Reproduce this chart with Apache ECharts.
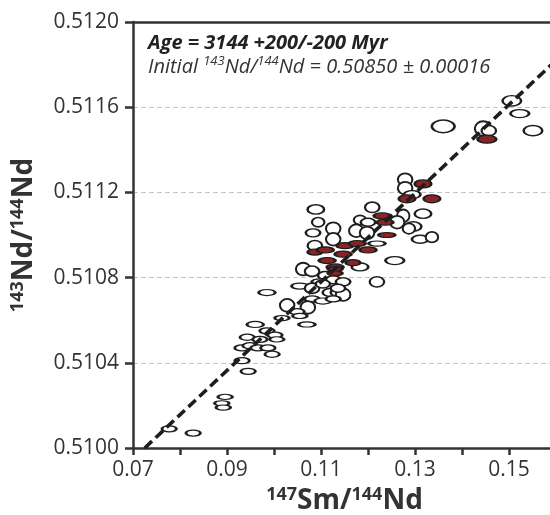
<!DOCTYPE html>
<html><head><meta charset="utf-8">
<script src="https://cdn.jsdelivr.net/npm/echarts@6/dist/echarts.min.js"></script>
<style>html,body{margin:0;padding:0;background:#fff}#c{width:550px;height:515px}</style>
</head><body><div id="c"></div>
<script>
// Axis ranges
const xMin = 0.07, xMax = 0.16, xInterval = 0.01;
const yMin = 0.5100, yMax = 0.5120, yInterval = 0.0004;
const xTickLabels = ['0.07', '0.09', '0.11', '0.13', '0.15'];

// Open (white) analyses: 147Sm/144Nd, 143Nd/144Nd and their uncertainties
const openX = [0.1506,0.1523,0.1360,0.1445,0.1457,0.1551,0.1279,0.1279,0.1294,0.1089,
  0.1094,0.1126,0.1083,0.1209,0.1183,0.1200,0.1275,0.1317,0.1262,0.1296,
  0.1287,0.1175,0.1219,0.1126,0.1087,0.1257,0.1311,0.1336,0.1062,0.1081,
  0.1183,0.1109,0.1219,0.1098,0.1126,0.1147,0.1055,0.1081,0.1104,0.1119,
  0.1136,0.1147,0.0985,0.1081,0.1104,0.1028,0.1072,0.1049,0.1055,0.1070,
  0.1017,0.0960,0.0985,0.1002,0.1006,0.0943,0.0970,0.0932,0.0949,0.0966,
  0.0987,0.0996,0.0932,0.0945,0.0896,0.0889,0.0892,0.0777,0.0828,0.1198,
  0.1126,0.1136];
const openY = [0.51163,0.51157,0.51151,0.51150,0.51149,0.51149,0.51126,0.51122,0.51119,0.51112,
  0.51106,0.51103,0.51101,0.51113,0.51107,0.51106,0.51109,0.51110,0.51106,0.51104,
  0.51103,0.51102,0.51096,0.51098,0.51095,0.51088,0.51098,0.51099,0.51084,0.51083,
  0.51085,0.51081,0.51078,0.51078,0.51079,0.51078,0.51076,0.51075,0.51077,0.51073,
  0.51073,0.51072,0.51073,0.51070,0.51069,0.51067,0.51066,0.51064,0.51062,0.51058,
  0.51061,0.51058,0.51055,0.51053,0.51051,0.51052,0.51051,0.51047,0.51048,0.51047,
  0.51047,0.51044,0.51041,0.51036,0.51024,0.51021,0.51019,0.51009,0.51007,0.51101,
  0.51070,0.51075];
const openSx = [0.0018,0.0018,0.0022,0.0016,0.0014,0.0018,0.0014,0.0014,0.0016,0.0016,
  0.0012,0.0014,0.0014,0.0014,0.0012,0.0014,0.0012,0.0016,0.0014,0.0016,
  0.0012,0.0014,0.0016,0.0014,0.0014,0.0018,0.0016,0.0012,0.0014,0.0014,
  0.0016,0.0014,0.0014,0.0016,0.0014,0.0014,0.0016,0.0014,0.0014,0.0014,
  0.0014,0.0014,0.0016,0.0014,0.0016,0.0014,0.0014,0.0014,0.0014,0.0016,
  0.0014,0.0016,0.0014,0.0014,0.0014,0.0014,0.0014,0.0014,0.0014,0.0014,
  0.0014,0.0014,0.0014,0.0014,0.0014,0.0014,0.0014,0.0014,0.0014,0.0014,
  0.0014,0.0014];
const openSy = [0.000022,0.000017,0.000027,0.000031,0.000022,0.000022,0.000027,0.000027,0.000017,0.000020,
  0.000020,0.000027,0.000017,0.000022,0.000020,0.000017,0.000027,0.000020,0.000027,0.000020,
  0.000022,0.000027,0.000011,0.000027,0.000022,0.000017,0.000017,0.000022,0.000027,0.000022,
  0.000017,0.000017,0.000022,0.000013,0.000017,0.000017,0.000013,0.000022,0.000017,0.000017,
  0.000017,0.000027,0.000013,0.000013,0.000013,0.000027,0.000027,0.000013,0.000011,0.000011,
  0.000011,0.000013,0.000013,0.000013,0.000011,0.000013,0.000013,0.000013,0.000013,0.000013,
  0.000013,0.000013,0.000013,0.000013,0.000011,0.000011,0.000011,0.000013,0.000013,0.000027,
  0.000013,0.000017];

// Filled (red) analyses
const redX = [0.1453,0.1317,0.1283,0.1336,0.1230,0.1236,0.1240,0.1151,0.1177,0.1200,
  0.1087,0.1109,0.1147,0.1113,0.1168,0.1130,0.1130,0.1130];
const redY = [0.51145,0.51124,0.51117,0.51117,0.51109,0.51106,0.51100,0.51095,0.51096,0.51093,
  0.51092,0.51093,0.51091,0.51088,0.51087,0.51085,0.51084,0.51082];
const redSx = [0.0018,0.0016,0.0016,0.0016,0.0016,0.0016,0.0016,0.0016,0.0016,0.0016,
  0.0014,0.0016,0.0016,0.0016,0.0014,0.0016,0.0014,0.0014];
const redSy = [0.000017,0.000017,0.000017,0.000017,0.000013,0.000013,0.000011,0.000013,0.000013,0.000013,
  0.000013,0.000013,0.000013,0.000013,0.000013,0.000013,0.000011,0.000011];

// Isochron end points
const isochronX = [0.0725, 0.1600];
const isochronY = [0.5100, 0.51182];

const gridBox = {left: 133, top: 22, width: 423, height: 426};
const pxPerX = gridBox.width / (xMax - xMin);
const pxPerY = gridBox.height / (yMax - yMin);
const ELLIPSE_SCALE = 2.2; // full axis length of drawn ellipse, in units of the listed uncertainty
function pts(xs, ys, sx, sy) {
  return xs.map((x, i) => ({value: [x, ys[i]], symbolSize: [ELLIPSE_SCALE * sx[i] * pxPerX, ELLIPSE_SCALE * sy[i] * pxPerY]}));
}

const FONT = 'Open Sans';
const AX = '#333';
const titleRich = {
  s: {fontSize: 18, fontWeight: 'bold', fontFamily: FONT, color: AX, verticalAlign: 'top', lineHeight: 30},
  b: {fontSize: 28, fontWeight: 'bold', fontFamily: FONT, color: AX, lineHeight: 30}
};
const chart = echarts.init(document.getElementById('c'), null, {renderer: 'canvas'});
chart.setOption({
  animation: false,
  backgroundColor: '#fff',
  grid: Object.assign({outerBoundsMode: 'none', containLabel: false}, gridBox),
  xAxis: [{
    type: 'value', min: xMin, max: xMax, interval: xInterval,
    axisLine: {show: true, onZero: false, lineStyle: {color: AX, width: 2.5}},
    axisTick: {show: true, length: 7, lineStyle: {color: AX, width: 2.5}},
    axisLabel: {
      color: AX, fontSize: 21, fontFamily: FONT, margin: 12,
      showMaxLabel: false,
      formatter: v => { const s = v.toFixed(2); return xTickLabels.includes(s) ? s : ''; }
    },
    splitLine: {show: false},
    name: '{s|147}{b|Sm/}{s|144}{b|Nd}',
    nameLocation: 'middle', nameGap: 37,
    nameTextStyle: {rich: titleRich}
  }, {
    type: 'value', position: 'top', min: xMin, max: xMax, interval: xInterval,
    axisLine: {show: true, onZero: false, lineStyle: {color: AX, width: 2.5}},
    axisTick: {show: false}, axisLabel: {show: false}, splitLine: {show: false}
  }],
  yAxis: {
    type: 'value', min: yMin, max: yMax, interval: yInterval,
    axisLine: {show: true, onZero: false, lineStyle: {color: AX, width: 2.5}},
    axisTick: {show: true, length: 8, lineStyle: {color: AX, width: 2.5}},
    axisLabel: {color: AX, fontSize: 21, fontFamily: FONT, margin: 14, formatter: v => v.toFixed(4)},
    splitLine: {show: true, lineStyle: {color: '#c4c4c4', width: 1.2, type: [5, 3]}},
    name: '{s|143}{b|Nd/}{s|144}{b|Nd}',
    nameLocation: 'middle', nameGap: 94,
    nameTextStyle: {rich: titleRich}
  },
  series: [{
    type: 'scatter', symbol: 'circle', z: 2,
    itemStyle: {color: '#ffffff', borderColor: '#1e1e1e', borderWidth: 1.9, opacity: 1},
    data: pts(openX, openY, openSx, openSy)
  }, {
    type: 'scatter', symbol: 'circle', z: 3,
    itemStyle: {color: '#8a2424', borderColor: '#1e1e1e', borderWidth: 1.9, opacity: 1},
    data: pts(redX, redY, redSx, redSy)
  }, {
    type: 'line', z: 4, symbol: 'none', silent: true, clip: true,
    lineStyle: {color: '#1e1e1e', width: 3.6, type: [10, 5]},
    data: isochronX.map((x, i) => [x, isochronY[i]])
  }],
  graphic: [{
    type: 'text', x: 148, y: 43, z: 10,
    style: {
      text: 'Age = 3144 +200/-200 Myr',
      font: 'italic bold 20px "Open Sans"', fill: '#222', verticalAlign: 'middle'
    }
  }, {
    type: 'text', x: 148, y: 67, z: 10,
    style: {
      text: '{i|Initial }{s|143}{i|Nd/}{s|144}{i|Nd = 0.50850 ± 0.00016}',
      verticalAlign: 'middle',
      rich: {
        i: {font: 'italic 20px "Open Sans"', fill: '#333', lineHeight: 24},
        s: {font: 'italic 13px "Open Sans"', fill: '#333', verticalAlign: 'top', lineHeight: 24}
      }
    }
  }]
});
</script></body></html>
